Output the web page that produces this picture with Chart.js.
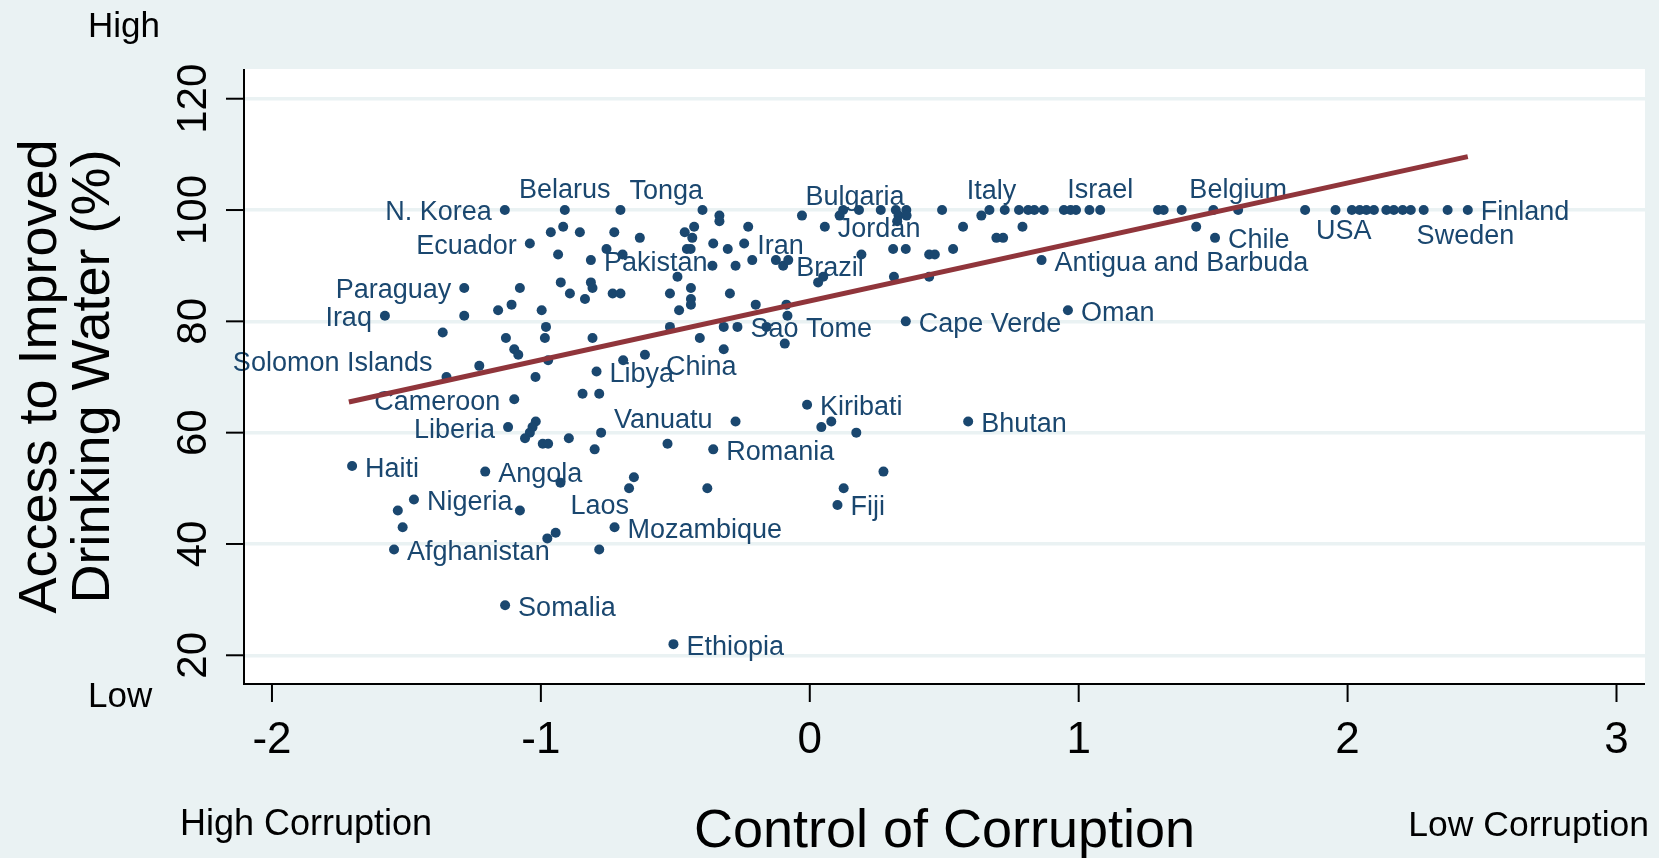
<!DOCTYPE html>
<html lang="en">
<head>
<meta charset="UTF-8">
<title>Control of Corruption and Access to Drinking Water</title>
<style>
    html, body { margin: 0; padding: 0; background: #eaf2f3; }
    #chart { display: block; }
</style>
</head>
<body>
<canvas id="chart" width="1659" height="858"></canvas>
<script src="https://cdn.jsdelivr.net/npm/chart.js@4"></script>
<script>
// countries that carry a name label
const labelNames = ['N. Korea', 'Belarus', 'Tonga', 'Bulgaria', 'Italy', 'Israel', 'Belgium', 'USA', 'Sweden', 'Finland',
    'Jordan', 'Chile', 'Ecuador', 'Iran', 'Pakistan', 'Antigua and Barbuda', 'Brazil', 'Paraguay', 'Oman', 'Iraq',
    'Cape Verde', 'Sao Tome', 'China', 'Libya', 'Solomon Islands', 'Cameroon', 'Kiribati', 'Vanuatu', 'Bhutan', 'Liberia',
    'Romania', 'Haiti', 'Angola', 'Laos', 'Nigeria', 'Fiji', 'Mozambique', 'Afghanistan', 'Somalia', 'Ethiopia'];
const labelCorr = [-1.134, -0.911, -0.704, 0.183, 0.668, 1.080, 1.593, 1.842, 2.372, 2.447,
    0.056, 1.507, -1.041, -0.244, -0.814, 0.862, -0.099, -1.285, 0.960, -1.580,
    0.357, -0.269, -0.613, -0.793, -1.351, -1.099, -0.010, -0.276, 0.589, -1.122,
    -0.359, -1.702, -1.207, -0.672, -1.472, 0.103, -0.726, -1.546, -1.133, -0.507];
const labelWater = [100, 100, 100, 100, 100, 100, 100, 100, 100, 100,
    97, 95, 94, 94, 91, 91, 90, 86, 82, 81,
    80, 79, 74, 71, 70, 66, 65, 62, 62, 61,
    57, 54, 53, 50, 48, 47, 43, 39, 29, 22];

// the rest of the countries (no label)
const otherCorr = [
    -0.399, 0.124, 0.264, 0.320, 0.359, 0.492, 0.725, 0.778, 0.812, 0.835,
    0.870, 0.945, 0.970, 0.990, 1.040, 1.295, 1.316, 1.383, 1.501, 1.955,
    2.016, 2.045, 2.070, 2.098, 2.144, 2.172, 2.205, 2.235, 2.283,
    -0.336, -0.029, 0.111, 0.330, 0.360, 0.638,
    -0.336, 0.325,
    -0.917, -0.430, -0.229, 0.570, 0.791, 1.437,
    -0.963, -0.855, -0.727, -0.465,
    -0.632, -0.437, 0.694, 0.719,
    -0.359,
    -0.756, -0.457, -0.443, -0.305, 0.310, 0.357, 0.533,
    -0.936, -0.696, 0.192, 0.444, 0.465,
    -0.214, -0.126, -0.080,
    -0.362, -0.276,
    -0.492, 0.050, 0.313, 0.444,
    -0.926, -0.814, 0.031,
    -1.078, -0.808, -0.442,
    -0.892, -0.733, -0.704, -0.520, -0.297,
    -0.836, -0.442,
    -1.109, -0.442, -0.201, -0.087,
    -1.159, -0.997, -0.486,
    -1.285, -0.083,
    -0.981, -0.520, -0.320, -0.161,
    -1.365,
    -1.130, -0.985, -0.808, -0.409,
    -0.093,
    -1.099, -0.320,
    -1.084,
    -0.973, -0.694,
    -1.229,
    -1.020,
    -0.845, -0.783,
    -1.019, 0.080,
    -1.031, 0.043,
    -1.041, -0.776, 0.173,
    -1.059, -0.896,
    -0.993, -0.973, -0.529,
    -0.800,
    0.274,
    -0.654,
    -0.927,
    -0.381, 0.126,
    -1.532, -1.078,
    -1.514,
    -0.945,
    -0.976,
    -0.783
];
const otherWater = [
    100, 100, 100, 100, 100, 100, 100, 100, 100, 100,
    100, 100, 100, 100, 100, 100, 100, 100, 100, 100,
    100, 100, 100, 100, 100, 100, 100, 100, 100,
    99, 99, 99, 99, 99, 99,
    98, 98,
    97, 97, 97, 97, 97, 97,
    96, 96, 96, 96,
    95, 95, 95, 95,
    94,
    93, 93, 93, 93, 93, 93, 93,
    92, 92, 92, 92, 92,
    91, 91, 91,
    90, 90,
    88, 88, 88, 88,
    87, 87, 87,
    86, 86, 86,
    85, 85, 85, 85, 85,
    84, 84,
    83, 83, 83, 83,
    82, 82, 82,
    81, 81,
    79, 79, 79, 79,
    78,
    77, 77, 77, 77,
    76,
    75, 75,
    74,
    73, 73,
    72,
    70,
    67, 67,
    62, 62,
    61, 61,
    60, 60, 60,
    59, 59,
    58, 58, 58,
    57,
    53,
    52,
    51,
    50, 50,
    46, 46,
    43,
    42,
    41,
    39
];

// linear fit, end points
const fitCorr = [-1.714, 2.447];
const fitWater = [65.5, 109.6];

const xTicks = [-2, -1, 0, 1, 2, 3];
const yTicks = [20, 40, 60, 80, 100, 120];

const FONT = '"Liberation Sans", Arial, Helvetica, sans-serif';
const NAVY = '#1a476f';
const BG = '#eaf2f3';

// label offset from its dot: [dx, dy, align]
const RIGHT = [13, 3, 'left'];
const LEFT = [-13, 3, 'right'];
const TOP = [0, -19, 'center'];
const labelPlace = {
    'N. Korea': LEFT, 'Belarus': TOP, 'Tonga': [9, -18, 'left'], 'Bulgaria': [-4, -12, 'center'],
    'Italy': [2, -18, 'center'], 'Israel': TOP, 'Belgium': TOP,
    'USA': [11, 22, 'left'], 'Sweden': [-31, 27, 'left'],
    'Ecuador': LEFT, 'Paraguay': LEFT, 'Iraq': LEFT, 'Solomon Islands': [-14, -13, 'right'],
    'Cameroon': [-14, 3, 'right'], 'Liberia': LEFT,
    'China': [21, 13, 'left'], 'Vanuatu': [-23, -1, 'right'], 'Laos': [0, 18, 'right']
};

const points = [];
labelCorr.forEach((x, i) => points.push({x: x, y: labelWater[i], name: labelNames[i]}));
otherCorr.forEach((x, i) => points.push({x: x, y: otherWater[i], name: ''}));
const fitLine = fitCorr.map((x, i) => ({x: x, y: fitWater[i]}));

const stataLook = {
    id: 'stataLook',
    beforeDraw(chart) {
        const {ctx, chartArea: a} = chart;
        ctx.save();
        ctx.fillStyle = BG;
        ctx.fillRect(0, 0, chart.width, chart.height);
        ctx.fillStyle = '#ffffff';
        ctx.fillRect(a.left, a.top, a.right - a.left, a.bottom - a.top);
        ctx.restore();
    },
    afterDatasetDraw(chart, args) {
        if (args.index !== 0) return;
        const ctx = chart.ctx;
        const xs = chart.scales.x, ys = chart.scales.y;
        ctx.save();
        ctx.font = '27px ' + FONT;
        ctx.fillStyle = NAVY;
        ctx.textBaseline = 'middle';
        points.forEach(p => {
            if (!p.name) return;
            const place = labelPlace[p.name] || RIGHT;
            ctx.textAlign = place[2];
            ctx.fillText(p.name, xs.getPixelForValue(p.x) + place[0], ys.getPixelForValue(p.y) + place[1]);
        });
        ctx.restore();
    },
    afterDraw(chart) {
        const {ctx, chartArea: a} = chart;
        const xs = chart.scales.x, ys = chart.scales.y;
        ctx.save();
        ctx.strokeStyle = '#000';
        ctx.fillStyle = '#000';
        ctx.lineWidth = 2;
        // axis lines
        ctx.beginPath();
        ctx.moveTo(a.left, a.top);
        ctx.lineTo(a.left, a.bottom);
        ctx.lineTo(a.right, a.bottom);
        ctx.stroke();
        // y ticks + rotated labels
        ctx.font = '42px ' + FONT;
        ctx.textAlign = 'center';
        ctx.textBaseline = 'alphabetic';
        yTicks.forEach(v => {
            const py = ys.getPixelForValue(v);
            ctx.beginPath();
            ctx.moveTo(a.left - 18, py);
            ctx.lineTo(a.left, py);
            ctx.stroke();
            ctx.save();
            ctx.translate(206, py);
            ctx.rotate(-Math.PI / 2);
            ctx.fillText(String(v), 0, 0);
            ctx.restore();
        });
        // x ticks + labels
        ctx.font = '44px ' + FONT;
        xTicks.forEach(v => {
            const px = xs.getPixelForValue(v);
            ctx.beginPath();
            ctx.moveTo(px, a.bottom);
            ctx.lineTo(px, a.bottom + 18);
            ctx.stroke();
            ctx.fillText(String(v), px, 753);
        });
        // axis titles
        ctx.font = '54px ' + FONT;
        ctx.fillText('Control of Corruption', (a.left + a.right) / 2, 847);
        const midY = (a.top + a.bottom) / 2;
        [['Access to Improved', 56], ['Drinking Water (%)', 109]].forEach(([t, bx]) => {
            ctx.save();
            ctx.translate(bx, midY);
            ctx.rotate(-Math.PI / 2);
            ctx.fillText(t, 0, 0);
            ctx.restore();
        });
        // corner notes
        ctx.textAlign = 'left';
        ctx.font = '35px ' + FONT;
        ctx.fillText('High', 88, 37);
        ctx.fillText('Low', 88, 707);
        ctx.font = '36px ' + FONT;
        ctx.fillText('High Corruption', 180, 835);
        ctx.textAlign = 'right';
        ctx.font = '35.5px ' + FONT;
        ctx.fillText('Low Corruption', 1649, 836);
        ctx.restore();
    }
};

new Chart(document.getElementById('chart').getContext('2d'), {
    data: {
        datasets: [{
            type: 'scatter',
            label: 'Countries',
            data: points,
            order: 1,
            pointRadius: 5,
            pointHoverRadius: 5,
            pointBackgroundColor: NAVY,
            pointBorderWidth: 0
        }, {
            type: 'line',
            label: 'Fitted values',
            data: fitLine,
            order: 0,
            borderColor: '#90353b',
            borderWidth: 5,
            pointRadius: 0,
            fill: false
        }]
    },
    options: {
        responsive: false,
        animation: false,
        events: [],
        layout: { padding: { left: 244, right: 14, top: 69, bottom: 174 } },
        plugins: { legend: { display: false }, tooltip: { enabled: false } },
        scales: {
            x: {
                type: 'linear',
                min: -2.104,
                max: 3.106,
                ticks: { display: false },
                grid: { display: false },
                border: { display: false },
                afterFit: s => { s.height = 0; }
            },
            y: {
                type: 'linear',
                min: 14.84,
                max: 125.34,
                ticks: { display: false },
                afterBuildTicks: s => { s.ticks = yTicks.map(v => ({ value: v })); },
                grid: { color: BG, lineWidth: 3.5, drawTicks: false },
                border: { display: false },
                afterFit: s => { s.width = 0; }
            }
        }
    },
    plugins: [stataLook]
});
</script>
</body>
</html>
